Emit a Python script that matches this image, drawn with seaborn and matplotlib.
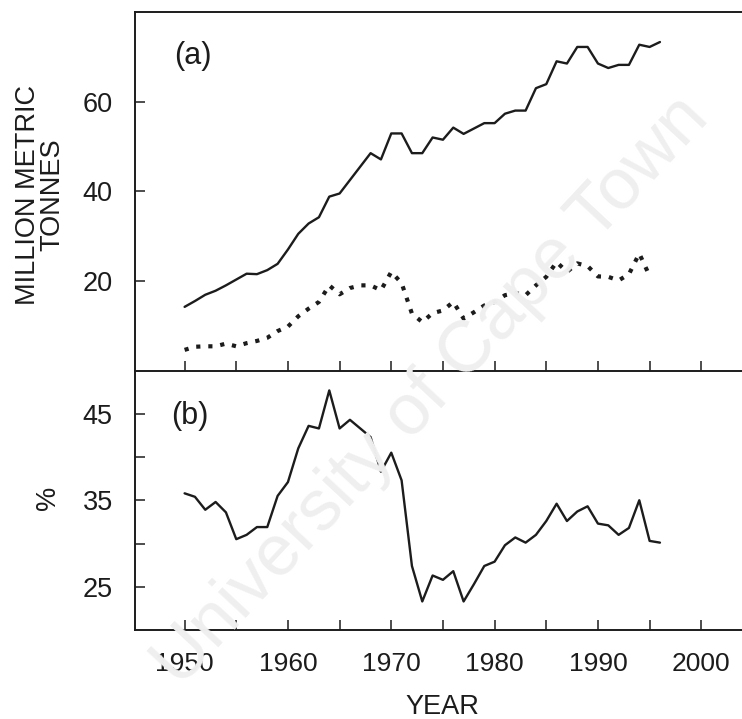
import numpy as np
import pandas as pd
import matplotlib
matplotlib.use("Agg")
import matplotlib.pyplot as plt
import seaborn as sns

# Annual series, 1950 onwards
years_total = list(range(1950, 1997))
total_catch = [14.2, 15.5, 16.9, 17.8, 19.0, 20.3, 21.6, 21.5, 22.4, 23.8,
               27.0, 30.5, 32.8, 34.2, 38.8, 39.5, 42.5, 45.5, 48.5, 47.1,
               52.9, 52.9, 48.5, 48.5, 52.0, 51.5, 54.2, 52.8, 54.0, 55.2,
               55.2, 57.3, 58.0, 58.0, 63.0, 63.9, 69.0, 68.5, 72.2, 72.2,
               68.5, 67.5, 68.2, 68.2, 72.7, 72.2, 73.3]

years_part = list(range(1950, 1996))
part_catch = [4.6, 5.3, 5.4, 5.4, 6.0, 5.4, 6.1, 6.6, 7.3, 8.8,
              9.8, 12.1, 13.8, 15.3, 19.0, 17.0, 18.4, 19.0, 19.0, 17.9,
              22.0, 19.5, 12.7, 10.8, 12.8, 13.4, 15.3, 11.6, 13.0, 14.5,
              15.3, 16.8, 17.3, 16.8, 19.0, 20.9, 24.2, 22.0, 23.9, 23.3,
              21.0, 20.9, 20.1, 21.5, 26.1, 21.1]

years_share = list(range(1950, 1997))
share_pct = [35.8, 35.4, 33.9, 34.8, 33.6, 30.5, 31.0, 31.9, 31.9, 35.5,
             37.1, 41.0, 43.6, 43.3, 47.7, 43.3, 44.3, 43.3, 42.3, 38.3,
             40.5, 37.3, 27.4, 23.3, 26.3, 25.8, 26.8, 23.3, 25.3, 27.4,
             27.9, 29.8, 30.7, 30.1, 31.0, 32.6, 34.6, 32.6, 33.7, 34.3,
             32.3, 32.1, 31.0, 31.8, 35.0, 30.3, 30.1]

x_major = [1950, 1960, 1970, 1980, 1990, 2000]
x_minor = [1955, 1965, 1975, 1985, 1995]
top_yticks = [20, 40, 60]
bot_yticks = [25, 35, 45]
bot_yminor = [30, 40]

df_total = pd.DataFrame({"year": years_total, "value": total_catch})
df_part = pd.DataFrame({"year": years_part, "value": part_catch})
df_share = pd.DataFrame({"year": years_share, "value": share_pct})

sns.set_theme(style="ticks")
plt.rcParams["font.family"] = ["Liberation Sans", "DejaVu Sans"]

W, H = 742, 719
fig = plt.figure(figsize=(W / 100, H / 100), dpi=100)
fig.patch.set_facecolor("white")

# faint diagonal watermark behind the panels
fig.text(432 / W, 1 - 392 / H, "University of Cape Town", rotation=47,
         fontsize=52, color="#efefef", ha="center", va="center",
         rotation_mode="anchor", zorder=0)

xlim = (1945.2, 2005.0)
left = 135 / W
width = (184.8 + 55 * 10.33 - 135) / W

ax1 = fig.add_axes([left, 1 - 370.5 / H, width, (370.5 - 12) / H])
ax2 = fig.add_axes([left, 1 - 630 / H, width, (630 - 370.5) / H])

ink = "#1c1c1c"
sns.lineplot(data=df_total, x="year", y="value", ax=ax1, color=ink,
             linewidth=1.7)
sns.lineplot(data=df_part, x="year", y="value", ax=ax1, color=ink,
             linewidth=3.0, linestyle=(0, (1.0, 1.9)))
sns.lineplot(data=df_share, x="year", y="value", ax=ax2, color=ink,
             linewidth=1.7)

for ax in (ax1, ax2):
    ax.set_facecolor("none")
    ax.set_xlim(*xlim)
    ax.set_xlabel("")
    ax.set_ylabel("")
    ax.set_xticks(x_major)
    ax.set_xticks(x_minor, minor=True)
    ax.tick_params(axis="both", which="both", direction="in", length=7,
                   width=1.1, color=ink, labelsize=19.5, pad=16,
                   labelcolor=ink)
    ax.spines["right"].set_visible(False)
    for s in ("left", "bottom", "top"):
        ax.spines[s].set_linewidth(1.4)
        ax.spines[s].set_color(ink)

ax1.set_ylim(0, 80)
ax1.set_yticks(top_yticks)
ax1.tick_params(axis="x", which="both", labelbottom=False)

ax2.set_ylim(20, 50)
ax2.set_yticks(bot_yticks)
ax2.set_yticks(bot_yminor, minor=True)
ax2.spines["top"].set_visible(False)
ax2.tick_params(axis="x", labelsize=19)

ax1.text(193 / W, 1 - 56 / H, "(a)", transform=fig.transFigure,
         fontsize=22, ha="center", va="center", color=ink)
ax2.text(190 / W, 1 - 416 / H, "(b)", transform=fig.transFigure,
         fontsize=22, ha="center", va="center", color=ink)

fig.text(40 / W, 1 - 195 / H, "MILLION METRIC\nTONNES", rotation=90,
         fontsize=19.5, ha="center", va="center", multialignment="center",
         linespacing=0.9, color=ink)
fig.text(48 / W, 1 - 498 / H, "%", rotation=90, fontsize=19.5,
         ha="center", va="center", color=ink)
fig.text(442 / W, 1 - 707 / H, "YEAR", fontsize=19.5, ha="center",
         va="center", color=ink)

fig.savefig("out.png", dpi=100, facecolor="white")
